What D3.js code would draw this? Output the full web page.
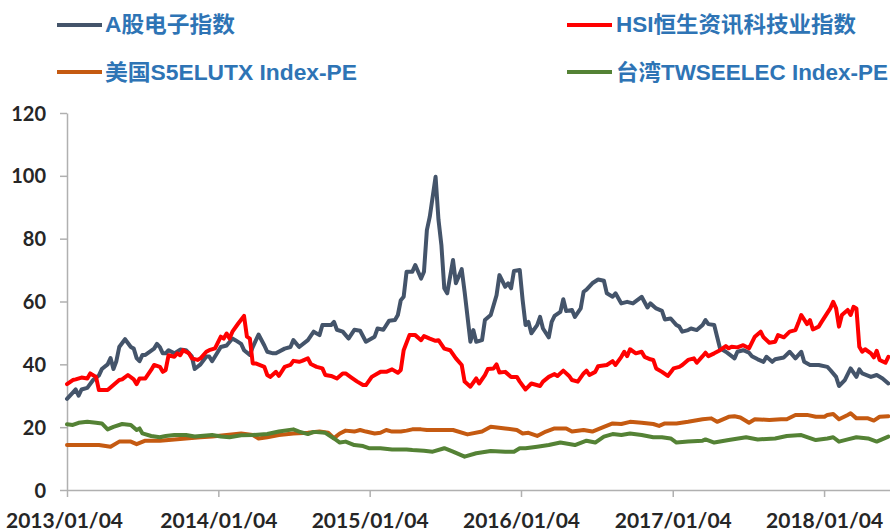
<!DOCTYPE html>
<html>
<head>
<meta charset="utf-8">
<script src="https://cdn.jsdelivr.net/npm/d3@7/dist/d3.min.js"></script>
<style>
  body { margin: 0; background: #fff; }
  svg { display: block; }
</style>
</head>
<body>
<div id="chart"></div>
<script>
// weekly PE series, indexed by weeks since 2013/01/04
const startDate = new Date(2013, 0, 4);
const endDayOffset = 1985;

const seriesNames = ["A股电子指数", "HSI恒生资讯科技业指数", "美国S5ELUTX Index-PE", "台湾TWSEELEC Index-PE"];
const seriesColors = ["#44546A", "#FF0000", "#C55A11", "#548235"];

const aWeeks = [0,2,3,4,5,7,9,11,12,14,15,16,17,18,20,22,23,24,25,26,27,30,31,32,33,34,35,37,39,41,43,44,46,48,49,50,53,55,57,58,60,61,63,64,66,68,69,71,72,75,77,78,80,83,85,87,88,91,92,93,95,97,99,101,103,106,107,109,111,113,114,115,116,117,119,120,122,123,124,125,127,128,129,130,131,133,134,136,137,139,140,141,143,144,146,148,149,151,152,153,154,156,157,158,159,160,162,163,164,166,167,168,170,171,172,174,175,177,178,179,181,183,185,186,188,189,191,193,195,198,200,201,203,205,206,208,210,211,212,214,215,217,219,220,221,223,224,225,227,228,230,231,233,235,236,238,240,241,243,244,247,249,251,253,254,256,259,262,263,265,266,268,270,272,273,274,277,279,281,283];
const aVals = [29,31,32,30,32,32.5,35,36.5,38.5,40,42,38.5,41,45.5,48,45.5,45,42,41,43,43,45,46.5,45.5,43.5,43.5,44.5,43.5,44.7,44.5,42.5,38.5,40,42.5,42.5,41,45.5,46,48.2,47.7,46.5,44.5,43,45.5,49.5,46,44,43.5,43.5,45,45.5,47.7,45.5,47.7,50.4,49.3,52.5,52.5,53.5,51,50.4,48.2,51,50.7,47.2,48.8,51.4,51,53.9,54.1,55.7,60.4,61.5,69.5,69.5,71.6,67.3,69.5,82.7,87,99.7,86,78,64.2,62.6,73.2,65.8,70.3,63.1,47.2,50.9,47.2,47.7,54.1,55.7,62,68.4,64.7,65.8,64.2,69.7,70,60.4,52.5,53.5,49.9,52.5,55.1,51.4,48.6,53.5,55.4,56.7,60.7,57,57.3,55.1,57.8,63.1,63.8,65.8,67,66.6,62.6,61.5,62.6,59.4,59.9,59.4,61.5,58.1,59.4,57.8,57,54.3,54.6,52.5,52,50.4,50.9,51.4,50.9,52.5,54.1,52.8,52.5,48.8,45.1,44,43.3,41.9,44,44.5,43.7,42.6,41.6,40.8,42.4,40.8,41.6,42.2,44,41.9,44,40.8,39.8,39.8,39.2,38.2,36,33.1,35,38.7,36,38.4,37.1,36,36.6,35.5,33.9];

const hWeeks = [0,2,3,5,7,8,10,11,13,14,16,18,19,21,23,24,25,27,29,30,32,33,34,35,37,38,39,40,42,43,45,46,48,49,51,53,54,55,56,57,59,61,62,63,64,65,68,69,70,72,73,75,77,78,80,81,83,84,86,88,89,91,93,95,96,98,100,102,103,105,107,108,110,112,114,115,116,118,120,122,123,125,127,128,130,132,134,136,137,139,141,142,144,145,147,148,149,151,153,155,156,158,160,163,164,166,168,169,171,173,174,176,178,179,180,182,183,186,188,189,191,192,193,194,196,198,199,201,202,203,205,207,209,211,212,214,216,217,219,220,221,223,225,227,228,229,231,233,235,237,239,240,242,244,245,247,249,251,252,253,255,256,257,259,260,262,263,264,265,266,267,269,270,271,272,273,274,275,277,278,279,280,282,283];
const hVals = [33.7,35,35.2,35.8,35.5,37.1,36,31.8,31.8,31.8,33.4,35,35.2,36.6,35.2,33.7,35.5,35.5,38.2,39.8,39.2,37.6,38.2,42.9,42.4,43.5,42.9,44.5,43.5,41.9,41.4,41.9,44,44.5,45.1,48.8,48.2,49.8,48.2,50.4,53,55.4,48.8,48.2,40.3,40.3,39.2,36.6,36,37.6,36.3,39.2,39.8,41.1,40.8,41.1,41.9,40.1,39.2,38.7,36.6,36.3,35.5,37.1,37.1,35.8,34.5,33.4,33.4,36,37.1,37.6,37.6,38.4,37.3,38.2,44.5,49.3,49.3,47.7,49,48.2,47.5,47.7,45,44.5,41.9,39.8,34.5,32.9,35.5,33.9,36.6,38.5,38.7,40,37.4,37.6,36,36,34.5,32,33.9,33.1,34.5,36,36.9,36.3,38,36.3,35,34.5,37.1,38,36.6,37.6,39.4,39.8,41,39.8,42.4,44,42.6,44.8,43.5,44,42.4,41.6,41.4,38.7,37.6,36.3,38.7,39.2,39.8,41.4,41.9,40.5,42.6,43.7,42.6,43.5,44.5,45.8,45.1,45.6,45.4,46.1,45.1,48.8,50.4,48.6,46.9,47.2,49.3,48.6,50.4,50.9,53.2,55.7,52.8,54.1,51.1,52,53.5,56.4,57.8,59.9,57.8,52,55.7,57.3,55.7,58.3,57.8,45.6,44,44.8,43.5,42.2,44.3,41.4,40.5,42.4];

const uWeeks = [0,11,15,18,22,24,27,32,37,41,46,50,55,60,64,66,69,73,78,83,87,90,92,94,96,99,101,103,106,108,110,112,115,117,119,122,124,126,129,133,138,143,146,151,155,157,159,162,165,168,172,174,178,181,185,188,191,194,198,202,204,206,210,214,219,222,224,228,230,232,235,237,242,246,248,251,255,258,261,262,264,266,269,270,272,276,278,280,283];
const uVals = [14.3,14.3,13.8,15.4,15.4,14.6,15.7,15.7,16.1,16.4,16.8,17,17.5,18,17.5,16.4,16.8,17.5,18,18.2,18.6,18.2,16.5,18,18.9,18.6,19.1,18.6,18,18.2,19.1,18.6,18.6,18.9,19.3,19.3,19.1,19.1,19.1,19.1,17.7,18.6,20.1,19.6,19.1,18,18.2,17.2,18.6,19.6,19.6,18.6,19.1,18.6,20.1,21.2,21,21.7,21.4,21,20.4,21.2,21.2,21.7,22.5,22.8,21.7,23.3,23.5,23.1,21.4,22.5,22.3,22.5,22.5,23.9,23.9,23.3,23.3,23.9,24.2,22.5,23.9,24.4,22.8,22.8,22.1,23.3,23.5];

const tWeeks = [0,2,4,7,10,12,14,16,19,22,24,25,26,29,32,34,37,41,44,46,50,53,56,60,64,69,73,78,80,83,85,89,92,94,96,99,102,104,108,112,117,119,123,126,130,133,137,141,146,151,154,156,158,162,166,170,175,179,182,185,188,191,194,198,202,205,208,210,214,219,220,223,228,234,238,244,248,253,258,262,264,266,269,272,276,279,283];
const tVals = [20.9,20.7,21.4,21.7,21.4,21.2,19.3,20.1,21,20.7,19.1,19.6,18,17.2,16.8,17.2,17.5,17.5,17,17.2,17.5,17,16.8,17.4,17.5,17.8,18.6,19.3,18.6,17.8,18.5,18.2,16.4,15.1,15.4,14.3,14,13.3,13.3,12.9,12.9,12.7,12.5,12.2,13.3,12.2,10.6,11.7,12.4,12.2,12.2,13.3,13.3,13.8,14.3,15.1,14.3,15.7,15.1,17,17.8,17.5,18,17.5,16.8,16.8,16.4,15.1,15.4,15.7,16.1,15.1,15.9,16.8,16.1,16.4,17.2,17.5,15.9,16.4,16.8,15.4,16.1,16.8,16.4,15.4,17];

const yTicks = [0, 20, 40, 60, 80, 100, 120];
const xTickDates = ["2013/01/04", "2014/01/04", "2015/01/04", "2016/01/04", "2017/01/04", "2018/01/04"];

const width = 890, height = 531;
const svg = d3.select("#chart").append("svg")
    .attr("width", width)
    .attr("height", height);

const parseDate = d3.timeParse("%Y/%m/%d");
const formatDate = d3.timeFormat("%Y/%m/%d");

const x = d3.scaleTime()
    .domain([startDate, d3.timeDay.offset(startDate, endDayOffset)])
    .range([67, 890]);
const y = d3.scaleLinear().domain([0, 120]).range([490, 113]);

// axes
const axisColor = "#B0B0B0";
const labelColor = "#262626";

const yAxis = svg.append("g")
    .attr("transform", "translate(67,0)")
    .call(d3.axisLeft(y).tickValues(yTicks).tickSize(7).tickSizeOuter(0).tickPadding(8));
const xAxis = svg.append("g")
    .attr("transform", "translate(0,490)")
    .call(d3.axisBottom(x).tickValues(xTickDates.map(parseDate)).tickFormat(formatDate)
        .tickSize(7).tickSizeOuter(0).tickPadding(16));

[yAxis, xAxis].forEach(function(g) {
  g.select(".domain").attr("stroke", axisColor).attr("stroke-width", 1.5);
  g.selectAll(".tick line").attr("stroke", axisColor).attr("stroke-width", 1.5);
  g.selectAll("text")
      .attr("fill", labelColor)
      .style("font-family", "Lato, 'Open Sans', sans-serif")
      .style("font-weight", "bold");
});
yAxis.selectAll("text").style("font-size", "20px").attr("x", -21).attr("dy", "0.35em");
xAxis.selectAll("text").style("font-size", "21px")
    .attr("y", 0).attr("dy", null)
    .attr("transform", function(d, i) { return "translate(" + (i === 0 ? -3 : 0) + ",38)"; })
    .attr("textLength", 117).attr("lengthAdjust", "spacingAndGlyphs");

// series lines
const allSeries = [
  { weeks: aWeeks, vals: aVals },
  { weeks: hWeeks, vals: hVals },
  { weeks: uWeeks, vals: uVals },
  { weeks: tWeeks, vals: tVals }
];

const line = d3.line()
    .x(function(d) { return x(d.date); })
    .y(function(d) { return y(d.v); });

allSeries.forEach(function(s, i) {
  const pts = s.weeks.map(function(w, j) {
    return { date: d3.timeDay.offset(startDate, w * 7), v: s.vals[j] };
  });
  svg.append("path")
      .datum(pts)
      .attr("fill", "none")
      .attr("stroke", seriesColors[i])
      .attr("stroke-width", 4)
      .attr("stroke-linejoin", "round")
      .attr("stroke-linecap", "round")
      .attr("d", line);
});

// legend (two columns, two rows)
const legendPos = [
  { lx: 57, tx: 105, ly: 25, ty: 32, w: 130 },
  { lx: 567, tx: 616, ly: 25, ty: 32, w: 240 },
  { lx: 57, tx: 105, ly: 72, ty: 80, w: 252 },
  { lx: 567, tx: 616, ly: 72, ty: 80, w: 272 }
];

const legend = svg.append("g");
seriesNames.forEach(function(name, i) {
  const p = legendPos[i];
  legend.append("line")
      .attr("x1", p.lx).attr("x2", p.lx + 45)
      .attr("y1", p.ly).attr("y2", p.ly)
      .attr("stroke", seriesColors[i])
      .attr("stroke-width", 4);
  legend.append("text")
      .attr("x", p.tx).attr("y", p.ty)
      .attr("fill", "#2E74B5")
      .style("font-family", "'Liberation Sans', 'Noto Sans CJK SC', sans-serif")
      .style("font-weight", "bold")
      .style("font-size", "22px")
      .attr("textLength", p.w)
      .attr("lengthAdjust", "spacingAndGlyphs")
      .text(name);
});
</script>
</body>
</html>
